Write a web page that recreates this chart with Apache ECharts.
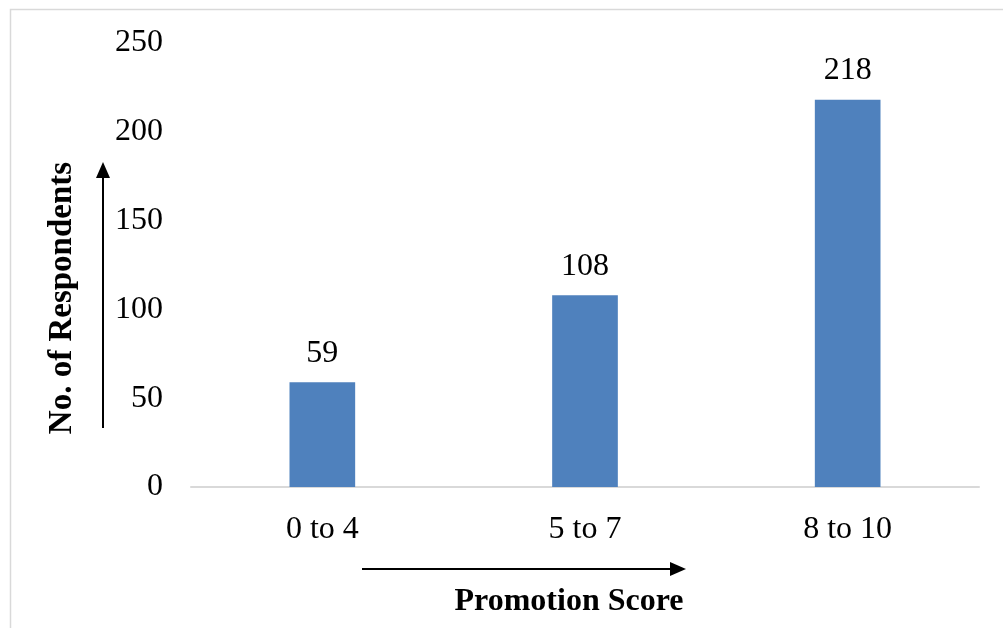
<!DOCTYPE html>
<html>
<head>
<meta charset="utf-8">
<script src="https://cdn.jsdelivr.net/npm/echarts@6/dist/echarts.min.js"></script>
<style>
html,body{margin:0;padding:0;background:#fff;}
#chart{width:1003px;height:628px;}
</style>
</head>
<body>
<div id="chart"></div>
<script>
const categories = ['0 to 4', '5 to 7', '8 to 10'];
const respondents = [59, 108, 218];
const yTicks = [0, 50, 100, 150, 200, 250];
const xTitle = 'Promotion Score';
const yTitle = 'No. of Respondents';

const FONT = '"Liberation Serif", "Times New Roman", serif';
const chart = echarts.init(document.getElementById('chart'));
chart.setOption({
  animation: false,
  backgroundColor: '#ffffff',
  grid: { left: 191, right: 24, top: 43, bottom: 141, containLabel: false },
  xAxis: {
    type: 'category',
    data: categories,
    axisLine: { show: true, lineStyle: { color: '#d9d9d9', width: 2 } },
    axisTick: { show: false },
    axisLabel: { color: '#000', fontFamily: FONT, fontSize: 32, margin: 27 }
  },
  yAxis: {
    type: 'value',
    min: yTicks[0],
    max: yTicks[yTicks.length - 1],
    interval: yTicks[1] - yTicks[0],
    splitLine: { show: false },
    axisLine: { show: false },
    axisTick: { show: false },
    axisLabel: { color: '#000', fontFamily: FONT, fontSize: 32, margin: 28 }
  },
  series: [{
    type: 'bar',
    data: respondents,
    barWidth: '25%',
    itemStyle: { color: '#4F81BD' },
    label: {
      show: true,
      position: 'top',
      distance: 13,
      color: '#000',
      fontFamily: FONT,
      fontSize: 32
    }
  }],
  graphic: [
    {
      type: 'rect',
      left: 8, top: 7,
      shape: { x: 0, y: 0, width: 1100, height: 700 },
      style: { fill: 'none', stroke: '#d9d9d9', lineWidth: 1.5 },
      silent: true
    },
    {
      type: 'text',
      x: 569, y: 602,
      style: {
        text: xTitle, fontFamily: FONT, fontSize: 32, fontWeight: 'bold',
        fill: '#000', align: 'center', verticalAlign: 'middle'
      }
    },
    {
      type: 'text',
      x: 62, y: 298,
      rotation: Math.PI / 2,
      style: {
        text: yTitle, fontFamily: FONT, fontSize: 33, fontWeight: 'bold',
        fill: '#000', align: 'center', verticalAlign: 'middle'
      }
    },
    {
      type: 'line',
      shape: { x1: 362, y1: 569, x2: 672, y2: 569 },
      style: { stroke: '#000', lineWidth: 2 }
    },
    {
      type: 'polygon',
      shape: { points: [[686, 569], [670, 562], [670, 576]] },
      style: { fill: '#000' }
    },
    {
      type: 'line',
      shape: { x1: 103, y1: 428, x2: 103, y2: 176 },
      style: { stroke: '#000', lineWidth: 2 }
    },
    {
      type: 'polygon',
      shape: { points: [[103, 162], [96, 178], [110, 178]] },
      style: { fill: '#000' }
    }
  ]
});
</script>
</body>
</html>
